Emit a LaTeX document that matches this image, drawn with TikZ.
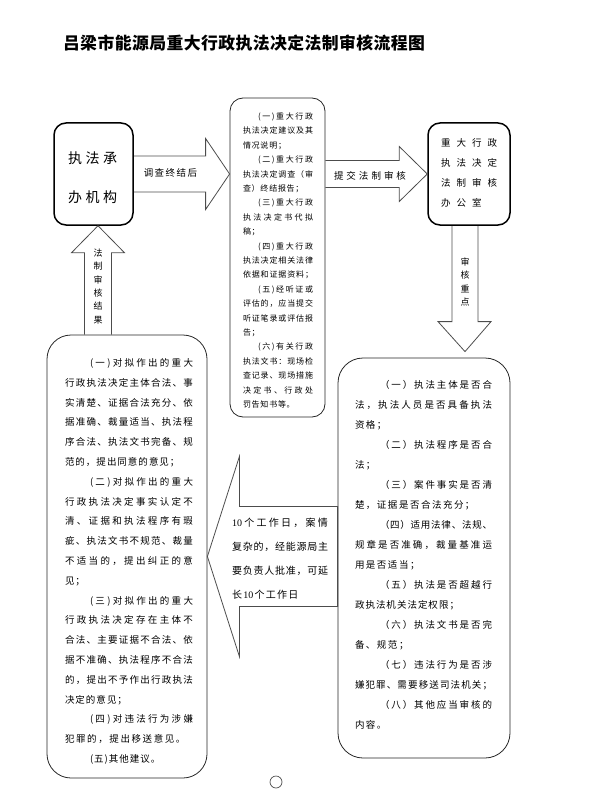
\documentclass[tikz,border=0pt]{standalone}
\usepackage{fontspec}
\usepackage{graphicx}
\newfontfamily\cjk{Noto Sans CJK SC}
\newfontfamily\tms{Liberation Serif}
\usetikzlibrary{calc}
\setlength{\parindent}{0pt}
\makeatletter
% spread characters of #2 over width #1
\newcommand\sline[2]{\makebox[#1][s]{\spr@a#2\relax}}
\def\spr@a#1{#1\spr@b}
\def\spr@b#1{\ifx\relax#1\else\hfil#1\expandafter\spr@b\fi}
% characters of #2 with fixed gap #1
\newcommand\gline[2]{\def\g@gap{#1}\g@a#2\relax}
\def\g@a#1{#1\g@b}
\def\g@b#1{\ifx\relax#1\else\hspace{\g@gap}#1\expandafter\g@b\fi}
\makeatother
\newcommand\ten{{\tms 10}}
\begin{document}
\begin{tikzpicture}[x=1pt,y=-1pt,
  thickbox/.style={draw=black, line width=1.5pt, rounded corners=12pt, inner sep=0pt},
  thinbox/.style={draw=black!85, line width=0.8pt, inner sep=0pt},
  arr/.style={draw=black!70, line width=0.8pt, line join=miter},
  txt/.style={inner sep=0pt, align=left, text=black}]
\useasboundingbox (0,0) rectangle (589,805);

% title
\node[inner sep=0pt, font=\cjk\bfseries\fontsize{19.5}{20}\selectfont] (title) at (244,43)
  {\resizebox{362pt}{!}{\gline{0.5pt}{吕梁市能源局重大行政执法决定法制审核流程图}}};

% boxes
\node[thickbox, minimum width=79pt, minimum height=102pt] (b1) at (93.5,174) {};
\node[thinbox, rounded corners=13pt, minimum width=95pt, minimum height=319pt] (mid) at (277.5,257.5) {};
\node[thickbox, minimum width=82pt, minimum height=102pt] (tr) at (469,174) {};
\node[thinbox, rounded corners=24pt, minimum width=160pt, minimum height=443pt] (ll) at (127,556.5) {};
\node[thinbox, rounded corners=25pt, minimum width=172pt, minimum height=400pt] (rl) at (424,558) {};

% box texts
\node[txt, align=center, font=\cjk\fontsize{14}{39}\selectfont] (b1t) at (92.5,177.5)
  {\gline{3.5pt}{执法承}\\\gline{3.5pt}{办机构}};
\node[txt, font=\cjk\fontsize{9.5}{20}\selectfont] (trt) at (469,173)
  {\gline{6pt}{重大行政}\\\gline{6pt}{执法决定}\\\gline{6pt}{法制审核}\\\gline{6pt}{办公室}};

\node[txt, text width=70pt, font=\cjk\fontsize{8}{14.4}\selectfont] (midt) at (278,260.5) {%
\hspace*{15pt}\sline{55pt}{(一)重大行政}\\
\sline{70pt}{执法决定建议及其}\\
\gline{0.75pt}{情况说明；}\\
\hspace*{15pt}\sline{55pt}{(二)重大行政}\\
\sline{70pt}{执法决定调查（审}\\
\gline{0.75pt}{查）终结报告；}\\
\hspace*{15pt}\sline{55pt}{(三)重大行政}\\
\sline{70pt}{执法决定书代拟}\\
\gline{0.75pt}{稿；}\\
\hspace*{15pt}\sline{55pt}{(四)重大行政}\\
\sline{70pt}{执法决定相关法律}\\
\sline{70pt}{依据和证据资料；}\\
\hspace*{15pt}\sline{55pt}{(五)经听证或}\\
\sline{70pt}{评估的，应当提交}\\
\sline{70pt}{听证笔录或评估报}\\
\gline{0.75pt}{告；}\\
\hspace*{15pt}\sline{55pt}{(六)有关行政}\\
\sline{70pt}{执法文书：现场检}\\
\sline{70pt}{查记录、现场措施}\\
\sline{70pt}{决定书、行政处}\\
\gline{0.75pt}{罚告知书等。}};

\node[txt, text width=128pt, font=\cjk\fontsize{9.5}{19.8}\selectfont] (llt) at (129,561.5) {%
\hspace*{25pt}\sline{103pt}{(一)对拟作出的重大}\\
\sline{128pt}{行政执法决定主体合法、事}\\
\sline{128pt}{实清楚、证据合法充分、依}\\
\sline{128pt}{据准确、裁量适当、执法程}\\
\sline{128pt}{序合法、执法文书完备、规}\\
\gline{1pt}{范的，提出同意的意见；}\\
\hspace*{25pt}\sline{103pt}{(二)对拟作出的重大}\\
\sline{128pt}{行政执法决定事实认定不}\\
\sline{128pt}{清、证据和执法程序有瑕}\\
\sline{128pt}{疵、执法文书不规范、裁量}\\
\sline{128pt}{不适当的，提出纠正的意}\\
\gline{1pt}{见；}\\
\hspace*{25pt}\sline{103pt}{(三)对拟作出的重大}\\
\sline{128pt}{行政执法决定存在主体不}\\
\sline{128pt}{合法、主要证据不合法、依}\\
\sline{128pt}{据不准确、执法程序不合法}\\
\sline{128pt}{的，提出不予作出行政执法}\\
\gline{1pt}{决定的意见；}\\
\hspace*{25pt}\sline{103pt}{(四)对违法行为涉嫌}\\
\gline{1.6pt}{犯罪的，提出移送意见。}\\
\hspace*{25pt}\gline{1pt}{(五)其他建议。}};

\node[txt, text width=137pt, font=\cjk\fontsize{9.5}{20}\selectfont] (rlt) at (423.5,554.5) {%
\hspace*{25pt}\sline{112pt}{（一）执法主体是否合}\\
\sline{137pt}{法，执法人员是否具备执法}\\
\gline{1.5pt}{资格；}\\
\hspace*{25pt}\sline{112pt}{（二）执法程序是否合}\\
\gline{1.5pt}{法；}\\
\hspace*{25pt}\sline{112pt}{（三）案件事实是否清}\\
\gline{1.5pt}{楚，证据是否合法充分；}\\
\hspace*{25pt}\sline{112pt}{（四）适用法律、法规、}\\
\sline{137pt}{规章是否准确，裁量基准运}\\
\gline{1.5pt}{用是否适当；}\\
\hspace*{25pt}\sline{112pt}{（五）执法是否超越行}\\
\gline{1pt}{政执法机关法定权限；}\\
\hspace*{25pt}\sline{112pt}{（六）执法文书是否完}\\
\gline{1.5pt}{备、规范；}\\
\hspace*{25pt}\sline{112pt}{（七）违法行为是否涉}\\
\sline{137pt}{嫌犯罪、需要移送司法机关；}\\
\hspace*{25pt}\sline{112pt}{（八）其他应当审核的}\\
\gline{1.5pt}{内容。}};

% arrow 1: b1 -> mid
\draw[arr] ($(b1.east)+(0,-18)$) -| ($(mid.west |- b1.east)+(-24,-35.5)$)
  -- (mid.west |- b1.east) -- ($(mid.west |- b1.east)+(-24,35.5)$) |- ($(b1.east)+(0,18)$);
\node[txt, font=\cjk\fontsize{9.5}{12}\selectfont] (a1t) at (170.5,173) {\gline{1.5pt}{调查终结后}};

% arrow 2: mid -> tr
\draw[arr] ($(mid.east |- tr.west)+(0,-13.5)$) -| ($(tr.west)+(-28,-27.5)$)
  -- (tr.west) -- ($(tr.west)+(-28,27.5)$) |- ($(mid.east |- tr.west)+(0,13.5)$);
\node[txt, font=\cjk\fontsize{9.5}{12}\selectfont] (a2t) at (370,176) {\gline{3pt}{提交法制审核}};

% arrow 3: tr -> rl (down)
\coordinate (d0) at ($(tr.south)+(-4,0)$);
\coordinate (d1) at ($(d0 |- rl.north)+(0,-6)$);
\draw[arr] ($(d0)+(-13,0)$) |- ($(d1)+(-27,-30)$) -- (d1) -- ($(d1)+(26,-30)$) -| ($(d0)+(13,0)$);
\node[txt, align=center, font=\cjk\fontsize{9}{13.3}\selectfont] (a3t) at (465,282) {审\\核\\重\\点};

% arrow 4: ll -> b1 (up)
\coordinate (u0) at ($(b1.south)+(4.5,0)$);
\draw[arr] ($(u0 |- ll.north)+(-13.5,0)$) |- ($(u0)+(-26.5,27)$) -- (u0)
  -- ($(u0)+(26.5,27)$) -| ($(u0 |- ll.north)+(13.5,0)$);
\node[txt, align=center, font=\cjk\fontsize{9}{13.3}\selectfont] (a4t) at (98,286.5) {法\\制\\审\\核\\结\\果};

% arrow 5: rl -> ll (left)
\draw[arr] (ll.east) -- ++(32,-100) |- ($(rl.west |- ll.east)+(0,-50)$)
  -- ($(rl.west |- ll.east)+(0,50)$) -| ($(ll.east)+(32,100)$) -- cycle;
\node[txt, text width=96pt, font=\cjk\fontsize{10}{24}\selectfont] (a5t) at (280,559) {%
\sline{96pt}{\ten 个工作日，案情}\\
\sline{96pt}{复杂的，经能源局主}\\
\sline{96pt}{要负责人批准，可延}\\
\gline{1.3pt}{长\ten 个工作日}};

% page mark
\node[circle, draw=black!70, line width=0.7pt, minimum size=12pt, inner sep=0pt] (pg) at (276,782) {};
\end{tikzpicture}
\end{document}
